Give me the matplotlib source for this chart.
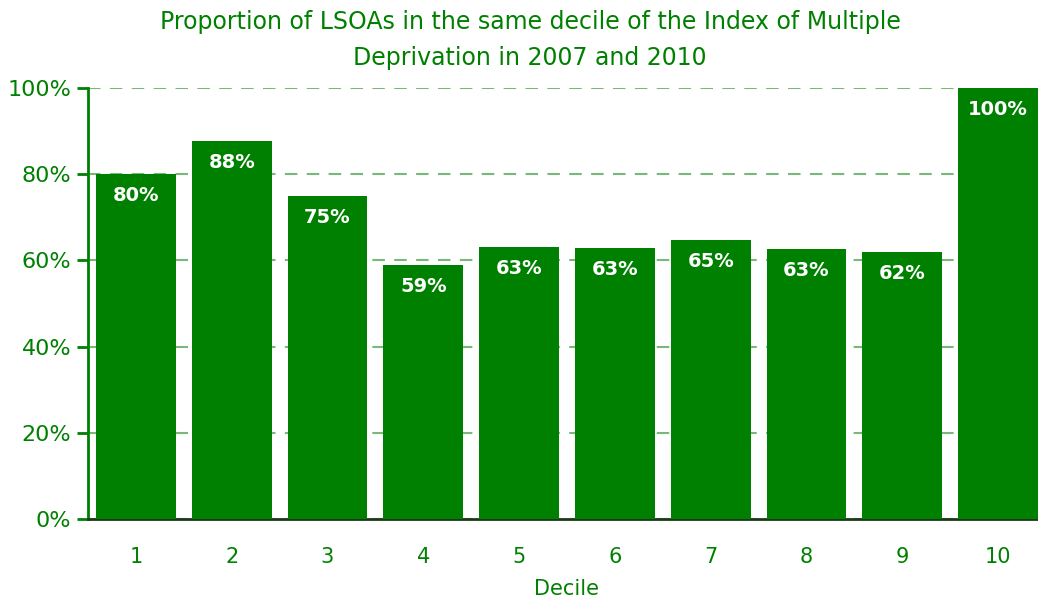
import matplotlib
matplotlib.use('Agg')
import matplotlib.pyplot as plt
from matplotlib.ticker import PercentFormatter

deciles = ['1', '2', '3', '4', '5', '6', '7', '8', '9', '10']
proportions = [0.80, 0.877, 0.749, 0.589, 0.631, 0.629, 0.647, 0.626, 0.619, 1.00]
bar_labels = ['80%', '88%', '75%', '59%', '63%', '63%', '65%', '63%', '62%', '100%']

GREEN = '#008000'
GRID = '#78b878'

W, H = 1038, 601
fig = plt.figure(figsize=(W / 100, H / 100), dpi=100)
# plot area: x from 88px to ~1046px (clipped at right edge), y from 88px to 519px
ax = fig.add_axes([88 / W, (H - 519) / H, (1046 - 88) / W, (519 - 88) / H])

x = range(len(deciles))
bars = ax.bar(x, proportions, width=0.835, color=GREEN, zorder=3)

for rect, lab in zip(bars, bar_labels):
    ax.text(rect.get_x() + rect.get_width() / 2, rect.get_height() - 0.05, lab,
            ha='center', va='center', color='white', fontsize=14,
            fontweight='bold', zorder=4)

ax.set_xlim(-0.5, 9.5)
ax.set_ylim(0, 1.0)
ax.set_yticks([0, 0.2, 0.4, 0.6, 0.8, 1.0])
ax.yaxis.set_major_formatter(PercentFormatter(1.0, decimals=0))
ax.set_xticks(list(x))
ax.set_xticklabels(deciles)

ax.grid(axis='y', color=GRID, linestyle=(0, (6, 4.5)), linewidth=1.5, zorder=0)
ax.set_axisbelow(True)

for s in ['top', 'right']:
    ax.spines[s].set_visible(False)
ax.spines['left'].set_color(GREEN)
ax.spines['left'].set_linewidth(2)
ax.spines['bottom'].set_color('#1a3a1a')
ax.spines['bottom'].set_linewidth(2)

ax.tick_params(axis='y', colors=GREEN, labelsize=16, length=8, width=2, pad=4)
ax.tick_params(axis='x', colors=GREEN, labelsize=15, length=0, pad=20)

ax.set_xlabel('Decile', color=GREEN, fontsize=15, labelpad=9)
fig.text(530 / W, 1 - 40 / H,
         'Proportion of LSOAs in the same decile of the Index of Multiple\nDeprivation in 2007 and 2010',
         ha='center', va='center', color=GREEN, fontsize=17, linespacing=1.6)

fig.savefig('out.png', dpi=100)
